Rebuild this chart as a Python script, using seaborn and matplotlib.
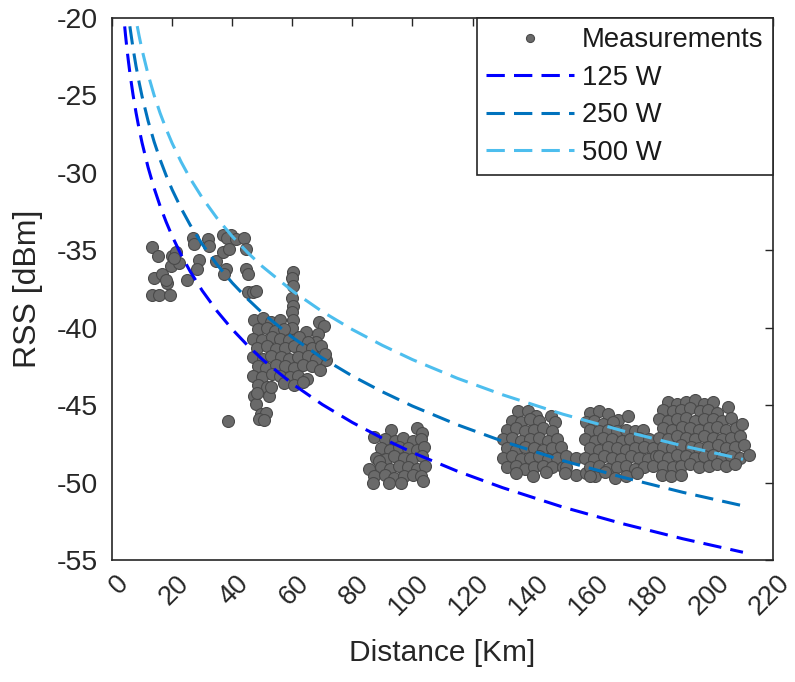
import matplotlib
matplotlib.use("Agg")
import matplotlib.pyplot as plt
import pandas as pd
import seaborn as sns
from matplotlib.lines import Line2D
from matplotlib.transforms import ScaledTranslation

# ---------------- data ----------------
# measurement clusters: (distance km, RSS dBm)
near_pts = [
    (13.4, -34.8), (15.4, -35.4), (14.0, -36.8), (16.8, -36.5), (18.4, -37.1), (17.9, -36.9),
    (13.4, -37.9), (15.7, -37.9), (19.2, -37.9),
    (19.6, -36.0), (20.1, -35.4), (21.2, -35.1), (22.3, -35.8), (20.7, -35.5),
    (25.1, -36.9), (26.8, -34.2), (27.3, -34.6), (28.8, -35.6), (28.4, -36.2),
    (31.8, -34.3), (32.3, -34.7), (34.6, -35.7),
    (36.8, -34.0), (39.6, -34.0), (38.4, -34.2), (41.2, -34.3), (44.0, -34.2),
    (36.8, -35.1), (39.0, -34.9), (37.9, -36.2), (37.3, -36.5),
    (44.6, -36.2), (45.1, -36.5), (44.6, -34.9),
    (45.1, -37.7), (46.8, -37.7), (47.9, -37.6),
    (38.5, -46.0),
]

mid_pts = [
    (60.1, -36.4), (60.0, -36.8), (60.2, -37.3), (60.0, -38.1), (60.1, -38.6), (59.9, -39.0),
    (60.2, -39.5), (60.0, -40.0),
    (69.0, -39.6), (70.7, -39.9), (68.4, -40.4), (67.9, -40.9), (66.8, -41.4), (71.2, -42.1), (64.6, -40.3),
    (47.2, -39.5), (50.1, -39.4), (53.0, -39.6), (55.8, -39.5),
    (48.5, -40.1), (51.6, -40.0), (54.4, -40.2), (57.3, -40.1),
    (46.9, -40.7), (50.0, -40.8), (53.1, -40.6), (56.0, -40.7), (58.9, -40.8), (62.1, -40.6), (65.2, -40.9),
    (48.4, -41.3), (51.5, -41.2), (54.6, -41.4), (57.6, -41.3), (60.5, -41.2), (63.4, -41.4), (66.5, -41.3), (69.4, -41.2),
    (46.8, -41.9), (50.1, -42.0), (53.0, -41.8), (56.1, -41.9), (59.0, -42.0), (62.0, -41.9), (65.1, -41.8), (68.0, -42.0), (70.8, -41.7),
    (48.5, -42.5), (51.4, -42.6), (54.5, -42.4), (57.5, -42.5), (60.6, -42.6), (63.5, -42.4), (66.4, -42.5), (69.3, -42.7),
    (47.0, -43.1), (50.0, -43.2), (53.1, -43.0), (56.0, -43.1), (59.1, -43.2), (62.0, -43.1), (65.0, -43.3),
    (48.6, -43.7), (51.6, -43.8), (57.4, -43.6), (60.5, -43.7), (63.6, -43.5),
    (47.3, -44.4), (47.9, -44.9), (48.4, -44.2), (52.3, -44.4), (52.9, -43.8),
    (49.6, -45.6), (51.2, -45.5), (49.0, -45.9), (50.7, -45.95),
]

c100_pts = [
    (92.9, -46.6), (101.5, -46.5), (103.3, -46.8),
    (87.3, -47.05), (91.0, -47.2), (94.1, -47.3), (97.0, -47.1), (100.2, -47.3), (103.0, -47.2),
    (89.5, -47.8), (92.5, -47.9), (95.6, -47.7), (98.5, -47.8), (101.6, -47.9), (104.0, -47.7),
    (88.0, -48.4), (91.1, -48.5), (94.0, -48.3), (97.1, -48.4), (100.0, -48.5), (103.1, -48.3),
    (85.7, -49.1), (89.0, -48.6), (89.6, -49.0), (92.5, -49.1), (95.4, -48.9), (98.6, -49.0), (101.5, -49.1), (104.2, -48.9),
    (87.1, -49.6), (91.0, -49.5), (94.0, -49.7), (97.1, -49.6), (100.1, -49.5), (103.0, -49.6),
    (86.8, -50.0), (92.3, -50.0), (96.2, -50.0), (103.4, -49.9),
]

c140_pts = [
    (135.0, -45.4), (138.5, -45.4), (141.0, -45.7),
    (133.0, -46.0), (136.0, -46.1), (139.1, -45.9), (142.2, -46.0), (146.2, -45.7), (147.3, -46.1),
    (131.5, -46.6), (134.6, -46.5), (137.4, -46.7), (140.5, -46.6), (143.6, -46.5), (146.5, -46.7),
    (130.1, -47.2), (133.0, -47.1), (136.1, -47.3), (139.0, -47.2), (142.1, -47.1), (145.0, -47.3), (148.0, -47.2),
    (131.5, -47.8), (134.5, -47.9), (137.6, -47.7), (140.4, -47.8), (143.5, -47.9), (146.6, -47.8), (149.4, -47.7),
    (130.2, -48.4), (133.1, -48.3), (136.0, -48.5), (139.1, -48.4), (142.0, -48.3), (145.1, -48.5), (148.0, -48.4), (151.0, -48.3),
    (131.6, -49.0), (134.5, -48.9), (137.5, -49.1), (140.5, -49.0), (143.4, -48.9), (146.6, -49.0), (150.0, -49.0),
    (134.6, -49.4), (140.1, -49.6), (144.6, -49.3),
    (154.6, -48.4), (151.2, -49.0), (154.6, -49.5), (157.9, -49.4), (160.7, -49.6), (150.7, -49.4),
]

c170_pts = [
    (159.0, -45.5), (162.1, -45.4), (165.0, -45.6), (168.3, -45.95), (171.7, -45.7),
    (157.6, -46.1), (160.5, -46.0), (163.4, -46.2), (166.6, -46.1),
    (159.1, -46.6), (162.0, -46.7), (165.1, -46.6), (168.0, -46.7), (171.0, -46.6), (174.1, -46.7), (176.9, -46.6),
    (157.5, -47.2), (160.6, -47.3), (163.5, -47.1), (166.4, -47.2), (169.6, -47.3), (172.5, -47.2), (175.4, -47.1), (178.6, -47.2),
    (159.0, -47.8), (162.1, -47.9), (165.0, -47.7), (168.1, -47.8), (171.0, -47.9), (174.0, -47.8), (177.1, -47.7), (180.0, -47.8),
    (157.5, -48.4), (160.4, -48.5), (163.6, -48.3), (166.5, -48.4), (169.4, -48.5), (172.6, -48.3), (175.5, -48.4), (178.4, -48.5), (181.0, -48.3),
    (159.1, -49.0), (162.0, -48.9), (165.1, -49.1), (168.0, -49.0), (171.0, -48.9), (174.1, -49.1), (177.0, -49.0), (180.1, -48.9),
    (159.0, -49.6), (164.0, -49.3), (167.5, -49.7), (171.2, -49.6), (174.6, -49.4),
]

c200_pts = [
    (185.0, -44.8), (188.1, -44.9), (191.0, -44.8), (194.1, -44.7), (197.0, -44.9), (200.0, -44.8),
    (183.5, -45.3), (186.6, -45.4), (189.5, -45.3), (192.4, -45.2), (195.6, -45.4), (198.5, -45.3), (201.5, -45.5), (205.1, -45.1),
    (182.0, -45.9), (185.1, -46.0), (188.0, -45.9), (191.0, -45.8), (194.1, -46.0), (197.0, -45.9), (200.1, -45.9), (203.0, -46.0), (206.0, -45.8),
    (183.5, -46.5), (186.5, -46.6), (189.6, -46.4), (192.5, -46.5), (195.4, -46.6), (198.6, -46.5), (201.5, -46.4), (204.5, -46.6), (207.6, -46.5), (209.8, -46.2),
    (182.1, -47.1), (185.0, -47.2), (188.0, -47.0), (191.1, -47.1), (194.0, -47.2), (197.1, -47.0), (200.0, -47.1), (203.1, -47.2), (206.0, -47.1), (209.0, -47.0),
    (183.5, -47.7), (186.4, -47.8), (189.5, -47.6), (192.6, -47.7), (195.5, -47.8), (198.4, -47.7), (201.6, -47.6), (204.5, -47.8), (207.5, -47.7), (210.5, -47.6),
    (182.0, -48.3), (185.1, -48.4), (188.0, -48.2), (191.0, -48.3), (194.1, -48.4), (197.0, -48.3), (200.0, -48.2), (203.1, -48.4), (206.0, -48.3), (209.0, -48.4), (212.0, -48.2),
    (183.5, -48.9), (186.6, -49.0), (189.4, -48.9), (192.5, -48.8), (195.5, -49.0), (198.6, -48.9), (201.5, -48.8), (204.4, -48.9), (207.5, -48.8),
    (183.0, -49.5), (186.0, -49.6), (189.5, -49.5),
]

# model curves
curve_dist = [3, 3.5, 4, 4.5, 5, 5.5, 6, 7, 8, 9, 10, 12, 14, 16, 18, 20, 23, 26, 30, 35,
              40, 45, 50, 60, 70, 80, 90, 100, 115, 130, 150, 170, 190, 210]
rss_125w = [-17.60, -18.94, -20.10, -21.12, -22.04, -22.86, -23.62, -24.96, -26.12, -27.14,
            -28.06, -29.64, -30.98, -32.14, -33.16, -34.08, -35.29, -36.36, -37.60, -38.94,
            -40.10, -41.12, -42.04, -43.62, -44.96, -46.12, -47.14, -48.06, -49.27, -50.33,
            -51.58, -52.66, -53.63, -54.50]
rss_250w = [-14.60, -15.94, -17.10, -18.12, -19.04, -19.86, -20.62, -21.96, -23.12, -24.14,
            -25.06, -26.64, -27.98, -29.14, -30.16, -31.08, -32.29, -33.36, -34.60, -35.94,
            -37.10, -38.12, -39.04, -40.62, -41.96, -43.12, -44.14, -45.06, -46.27, -47.33,
            -48.58, -49.66, -50.63, -51.50]
rss_500w = [-11.60, -12.94, -14.10, -15.12, -16.04, -16.86, -17.62, -18.96, -20.12, -21.14,
            -22.06, -23.64, -24.98, -26.14, -27.16, -28.08, -29.29, -30.36, -31.60, -32.94,
            -34.10, -35.12, -36.04, -37.62, -38.96, -40.12, -41.14, -42.06, -43.27, -44.33,
            -45.58, -46.66, -47.63, -48.50]
curve_labels = ["125 W", "250 W", "500 W"]
curve_colors = ["#0000FF", "#0072BD", "#4DBEEE"]

x_ticks = list(range(0, 221, 20))
y_ticks = [-55, -50, -45, -40, -35, -30, -25, -20]

# ---------------- build tables ----------------
meas = pd.DataFrame(near_pts + mid_pts + c100_pts + c140_pts + c170_pts + c200_pts,
                    columns=["d", "rss"])
curves = pd.concat([
    pd.DataFrame({"d": curve_dist, "rss": vals, "model": lab})
    for vals, lab in zip([rss_125w, rss_250w, rss_500w], curve_labels)
], ignore_index=True)

# ---------------- style ----------------
sns.set_style("white")
plt.rcParams["font.family"] = ["Liberation Sans", "DejaVu Sans"]
TXT = "#262626"

fig = plt.figure(figsize=(7.95, 6.82), dpi=100)
ax = fig.add_axes([0.1409, 0.1789, 0.8314, 0.7947])

face, edge = "#6a6a6a", "#4a4a4a"
sns.scatterplot(data=meas, x="d", y="rss", s=74, color=face, edgecolor=edge,
                linewidth=0.8, ax=ax, zorder=2, legend=False)

dash = (6.0, 3.0)
sns.lineplot(data=curves, x="d", y="rss", hue="model", style="model",
             palette=dict(zip(curve_labels, curve_colors)),
             dashes={lab: dash for lab in curve_labels},
             linewidth=2.2, estimator=None, ax=ax, zorder=3, legend=False)

ax.set_xlim(0, 220)
ax.set_ylim(-55, -20)
ax.set_xticks(x_ticks)
ax.set_yticks(y_ticks)
ax.set_xticklabels([str(t) for t in x_ticks])
ax.set_yticklabels([str(t) for t in y_ticks])

ax.tick_params(direction="in", length=6, width=1.0, top=True, right=True,
               colors=TXT, labelsize=20.5, labelcolor=TXT)
ax.tick_params(axis="y", pad=10)
ax.tick_params(axis="x", pad=14, labelsize=19.5)
for lbl in ax.get_xticklabels():
    lbl.set_rotation(45)
    lbl.set_ha("right")
    lbl.set_va("center")
    lbl.set_rotation_mode("anchor")
    lbl.set_transform(lbl.get_transform() + ScaledTranslation(0.125, 0, fig.dpi_scale_trans))

for sp in ax.spines.values():
    sp.set_color(TXT)
    sp.set_linewidth(1.2)

ax.set_xlabel("Distance [Km]", fontsize=21.5, color=TXT, labelpad=13)
ax.set_ylabel("RSS [dBm]", fontsize=23, color=TXT, labelpad=10)

handles = [Line2D([], [], marker="o", linestyle="none", markersize=5.8,
                  markerfacecolor=face, markeredgecolor=edge, markeredgewidth=0.8)]
for c in curve_colors:
    handles.append(Line2D([], [], color=c, linewidth=2.2, dashes=dash))
leg = ax.legend(handles, ["Measurements"] + curve_labels, loc="upper right",
                bbox_to_anchor=(1, 1), borderaxespad=0, fontsize=19.8, frameon=True,
                fancybox=False, framealpha=1, edgecolor=TXT, handlelength=3.2,
                handletextpad=0.3, labelspacing=0.42, borderpad=0.34)
leg.get_frame().set_linewidth(1.2)
for t in leg.get_texts():
    t.set_color("#1a1a1a")

fig.savefig("out.png", dpi=100)
